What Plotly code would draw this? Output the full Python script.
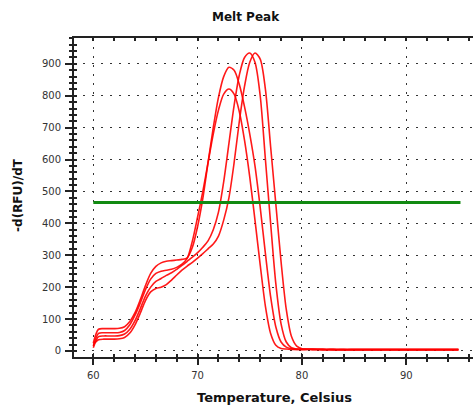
import plotly.graph_objects as go

# ---- data ----
temperature = [60, 60.5, 61, 61.5, 62, 62.5, 63, 63.5, 64, 64.5, 65, 65.5, 66, 66.5,
               67, 67.5, 68, 68.5, 69, 69.5, 70, 70.5, 71, 71.5, 72, 72.5, 73, 73.5,
               74, 74.5, 75, 75.5, 76, 76.5, 77, 77.5, 78, 78.5, 79, 79.5, 80,
               81, 82, 83, 84, 85, 86, 87, 88, 89, 90, 91, 92, 93, 94, 95]

well_a = [25, 68, 70, 70, 70, 71, 76, 92, 120, 160, 205, 243, 265, 276, 281, 283, 285, 287,
          292, 325, 390, 478, 590, 700, 795, 860, 889, 880, 835, 765, 680, 580, 450, 305,
          170, 75, 28, 12, 7, 5, 5,
          5, 4, 4, 4, 4, 4, 4, 4, 4, 4, 4, 4, 4, 4, 4]

well_b = [15, 55, 57, 57, 57, 58, 64, 82, 112, 150, 192, 225, 243, 250, 253, 256, 262, 272,
          290, 345, 420, 500, 590, 680, 755, 805, 821, 805, 750, 660, 545, 410, 270, 140,
          55, 18, 8, 6, 5, 5, 5,
          5, 4, 4, 4, 4, 4, 4, 4, 4, 4, 4, 4, 4, 4, 4]

well_c = [10, 45, 47, 47, 47, 48, 53, 68, 95, 132, 172, 200, 218, 227, 237, 245, 256, 268,
          281, 294, 308, 325, 345, 380, 435, 530, 650, 770, 865, 920, 934, 905, 800, 600,
          400, 210, 85, 28, 10, 6, 5,
          5, 5, 4, 4, 4, 4, 4, 4, 4, 4, 4, 4, 4, 4, 4]

well_d = [20, 35, 37, 37, 37, 38, 42, 56, 82, 118, 158, 185, 196, 200, 208, 222, 238, 253,
          266, 278, 291, 305, 320, 335, 360, 410, 480, 590, 720, 830, 905, 934, 915, 820,
          640, 460, 280, 130, 45, 15, 7,
          5, 5, 5, 4, 4, 4, 4, 4, 4, 4, 4, 4, 4, 4, 4]

threshold_x = [60, 95.2]
threshold_value = 465

x_ticks = [60, 70, 80, 90]
y_ticks = [0, 100, 200, 300, 400, 500, 600, 700, 800, 900]

AXIS = "#222222"
TICKFONT = dict(family="DejaVu Sans", size=10, color="#333333")
GRID = dict(showgrid=True, gridcolor="#333333", gridwidth=1.1, griddash="2px,7px")

fig = go.Figure()

for ys in (well_a, well_b, well_c, well_d):
    fig.add_trace(go.Scatter(
        x=temperature, y=ys, mode="lines",
        line=dict(color="rgba(255,0,0,0.9)", width=1.6, shape="spline", smoothing=0.8),
        showlegend=False, hoverinfo="skip"))

fig.add_trace(go.Scatter(
    x=threshold_x, y=[threshold_value] * len(threshold_x), mode="lines",
    line=dict(color="#128a12", width=3), showlegend=False, hoverinfo="skip"))

# dummy trace to activate overlay axes (inside tick marks)
fig.add_trace(go.Scatter(x=[None], y=[None], xaxis="x2", yaxis="y2",
                         showlegend=False, hoverinfo="skip"))

xr = [58.15, 96.4]
yr = [-19, 981]

fig.update_layout(
    width=475, height=407,
    margin=dict(l=74, r=2, t=38, b=50),
    paper_bgcolor="white", plot_bgcolor="white",
    xaxis=dict(range=xr, tickvals=x_ticks, ticktext=[str(v) for v in x_ticks],
               ticks="outside", ticklen=6, tickwidth=1.5, tickcolor=AXIS,
               minor=dict(dtick=2, tick0=60, ticks="outside", ticklen=3, tickwidth=1.5,
                          tickcolor=AXIS, showgrid=False),
               showline=True, linecolor=AXIS, linewidth=2, mirror=True,
               zeroline=False, tickfont=TICKFONT, ticklabelstandoff=2, **GRID),
    yaxis=dict(range=yr, tickvals=y_ticks, ticktext=[str(v) for v in y_ticks],
               ticks="outside", ticklen=7, tickwidth=1.5, tickcolor=AXIS,
               minor=dict(dtick=20, tick0=0, ticks="outside", ticklen=3, tickwidth=1.5,
                          tickcolor=AXIS, showgrid=False),
               showline=True, linecolor=AXIS, linewidth=2, mirror=False,
               zeroline=False, tickfont=TICKFONT, ticklabelstandoff=2, **GRID),
    xaxis2=dict(range=xr, overlaying="x", anchor="y2", tickvals=x_ticks,
                ticks="inside", ticklen=3, tickwidth=1.5, tickcolor=AXIS, mirror="ticks",
                minor=dict(dtick=2, tick0=60, ticks="inside", ticklen=3, tickwidth=1.5,
                           tickcolor=AXIS),
                showticklabels=False, showgrid=False, showline=False, zeroline=False),
    yaxis2=dict(range=yr, overlaying="y", anchor="x2", tickvals=y_ticks,
                ticks="inside", ticklen=3, tickwidth=1.5, tickcolor=AXIS,
                minor=dict(dtick=20, tick0=0, ticks="inside", ticklen=3, tickwidth=1.5,
                           tickcolor=AXIS),
                showticklabels=False, showgrid=False, showline=False, zeroline=False),
    annotations=[
        dict(text="<b>Melt Peak</b>", xref="paper", yref="paper", x=0.431, y=1.066,
             xanchor="center", yanchor="middle", showarrow=False,
             font=dict(family="DejaVu Sans", size=12, color="#111111")),
        dict(text="<b>Temperature, Celsius</b>", xref="paper", yref="paper", x=0.5025,
             y=-0.1254, xanchor="center", yanchor="middle", showarrow=False,
             font=dict(family="DejaVu Sans", size=13, color="#111111")),
        dict(text="<b>-d(RFU)/dT</b>", xref="paper", yref="paper", x=-0.1404, y=0.508,
             xanchor="center", yanchor="middle", showarrow=False, textangle=-90,
             font=dict(family="DejaVu Sans", size=12, color="#111111")),
    ],
)

fig.write_html(
    "out.html",
    config={"displayModeBar": False},
    post_script="document.body.style.margin='0';document.body.style.overflow='hidden';",
)
